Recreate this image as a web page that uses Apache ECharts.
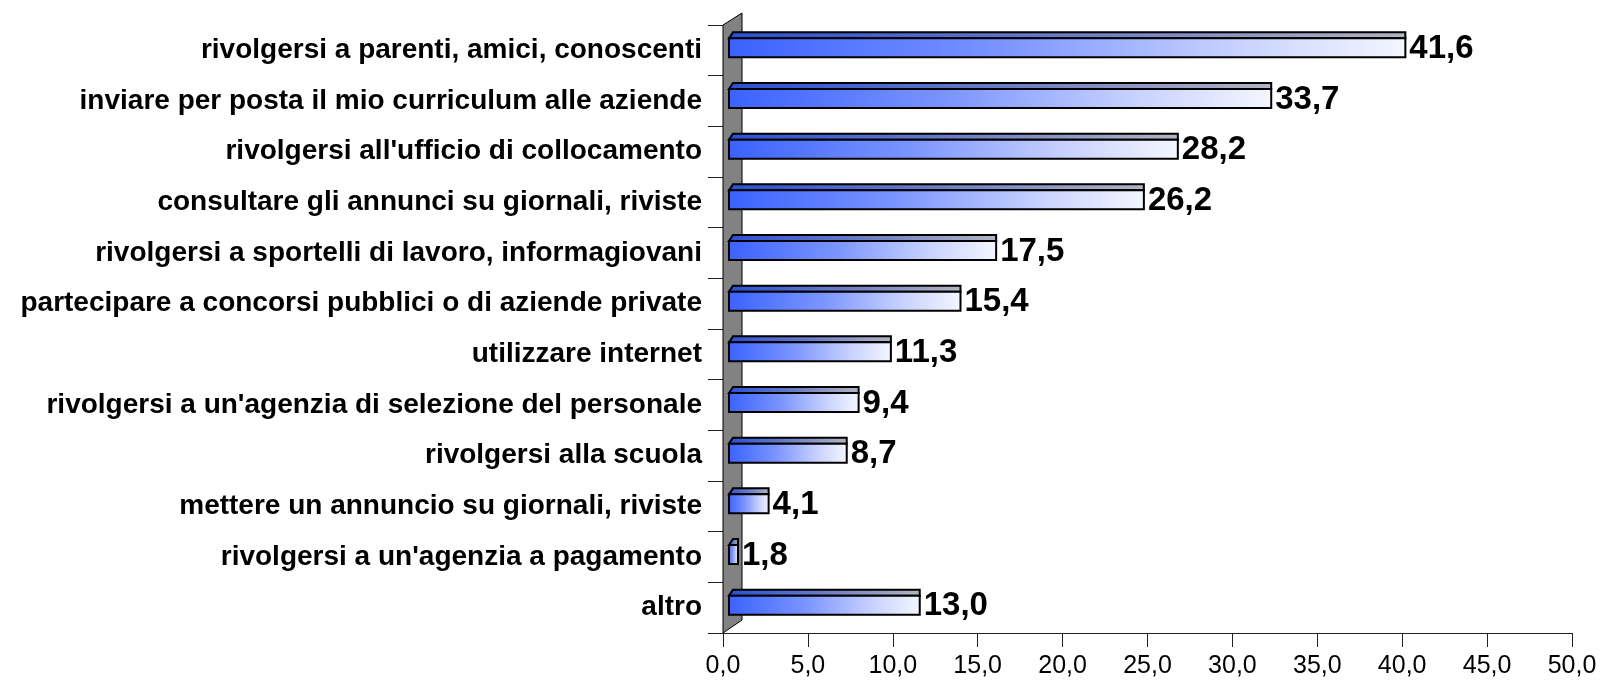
<!DOCTYPE html>
<html>
<head>
<meta charset="utf-8">
<script src="https://cdn.jsdelivr.net/npm/echarts@6/dist/echarts.min.js"></script>
<style>
  html, body { margin: 0; padding: 0; background: #fff; }
  #chart { width: 1600px; height: 681px; }
</style>
</head>
<body>
<div id="chart"></div>
<script>
// categories, top to bottom
const categories = [
  'rivolgersi a parenti, amici, conoscenti',
  'inviare per posta il mio curriculum alle aziende',
  "rivolgersi all'ufficio di collocamento",
  'consultare gli annunci su giornali, riviste',
  'rivolgersi a sportelli di lavoro, informagiovani',
  'partecipare a concorsi pubblici o di aziende private',
  'utilizzare internet',
  "rivolgersi a un'agenzia di selezione del personale",
  'rivolgersi alla scuola',
  'mettere un annuncio su giornali, riviste',
  "rivolgersi a un'agenzia a pagamento",
  'altro'
];
const values = [41.6, 33.7, 28.2, 26.2, 17.5, 15.4, 11.3, 9.4, 8.7, 4.1, 1.8, 13.0];

const xMin = 0;
const xMax = 50;
const xStep = 5;

const fmt = v => v.toFixed(1).replace('.', ',');

// 3d look: bars are drawn a bit forward of the back wall
const DEPTH = 24;
const FACE_H = 19;
const TOP_DX = 4, TOP_DY = 6;
const WALL_DX = 19, WALL_DY = 12;

const chart = echarts.init(document.getElementById('chart'));

const renderBar = (params, api) => {
  const v = api.value(0);
  const idx = api.value(1);
  const c = api.coord([v, idx]);
  const x0 = params.coordSys.x + 6;
  const x1 = Math.max(c[0] - DEPTH, x0 + 9);
  const yTop = c[1] - 12;
  return {
    type: 'group',
    children: [
      {
        type: 'polygon',
        shape: { points: [[x0, yTop], [x0 + TOP_DX, yTop - TOP_DY], [x1, yTop - TOP_DY], [x1, yTop]] },
        style: {
          fill: new echarts.graphic.LinearGradient(0, 0, 1, 0, [
            { offset: 0, color: '#2c50d6' },
            { offset: 0.5, color: '#6a7cc4' },
            { offset: 1, color: '#b2b4c2' }
          ]),
          stroke: '#000',
          lineWidth: 2
        }
      },
      {
        type: 'rect',
        shape: { x: x0, y: yTop, width: x1 - x0, height: FACE_H },
        style: {
          fill: new echarts.graphic.LinearGradient(0, 0, 1, 0, [
            { offset: 0, color: '#3a62ff' },
            { offset: 0.4, color: '#7a94ff' },
            { offset: 0.75, color: '#c8d2ff' },
            { offset: 1, color: '#f4f6ff' }
          ]),
          stroke: '#000',
          lineWidth: 2
        }
      },
      {
        type: 'text',
        x: x1 + 4,
        y: yTop + FACE_H / 2 + 1,
        style: {
          text: fmt(v),
          fill: '#000',
          font: 'bold 33px "Liberation Sans", Arial, sans-serif',
          align: 'left',
          verticalAlign: 'middle'
        }
      }
    ]
  };
};

const renderWall = (params) => {
  const cs = params.coordSys;
  const x = cs.x, y = cs.y, h = cs.height;
  return {
    type: 'polygon',
    shape: { points: [[x, y], [x + WALL_DX, y - WALL_DY], [x + WALL_DX, y + h - WALL_DY - 1], [x, y + h]] },
    style: { fill: '#828282', stroke: '#000', lineWidth: 1 }
  };
};

const option = {
  animation: false,
  backgroundColor: '#fff',
  grid: { left: 723, right: 28, top: 25, bottom: 48 },
  xAxis: {
    type: 'value',
    min: xMin,
    max: xMax,
    interval: xStep,
    splitLine: { show: false },
    axisLine: { show: true, lineStyle: { color: '#222', width: 1 } },
    axisTick: { show: true, length: 14, lineStyle: { color: '#222' } },
    axisLabel: {
      formatter: v => fmt(v),
      color: '#000',
      fontSize: 25,
      fontFamily: '"Liberation Sans", Arial, sans-serif',
      margin: 21
    }
  },
  yAxis: {
    type: 'category',
    data: categories,
    inverse: true,
    axisLine: { show: true, lineStyle: { color: '#222', width: 1 } },
    axisTick: { show: true, length: 15, lineStyle: { color: '#222' } },
    axisLabel: {
      color: '#000',
      fontSize: 28,
      fontWeight: 'bold',
      fontFamily: '"Liberation Sans", Arial, sans-serif',
      margin: 21
    }
  },
  series: [
    {
      type: 'custom',
      name: 'wall',
      z: 1,
      silent: true,
      clip: false,
      renderItem: renderWall,
      data: [[0, 0]]
    },
    {
      type: 'custom',
      name: 'valori',
      z: 2,
      clip: false,
      renderItem: renderBar,
      encode: { x: 0, y: 1 },
      data: values.map((v, i) => [v, i])
    }
  ]
};

chart.setOption(option);
</script>
</body>
</html>
